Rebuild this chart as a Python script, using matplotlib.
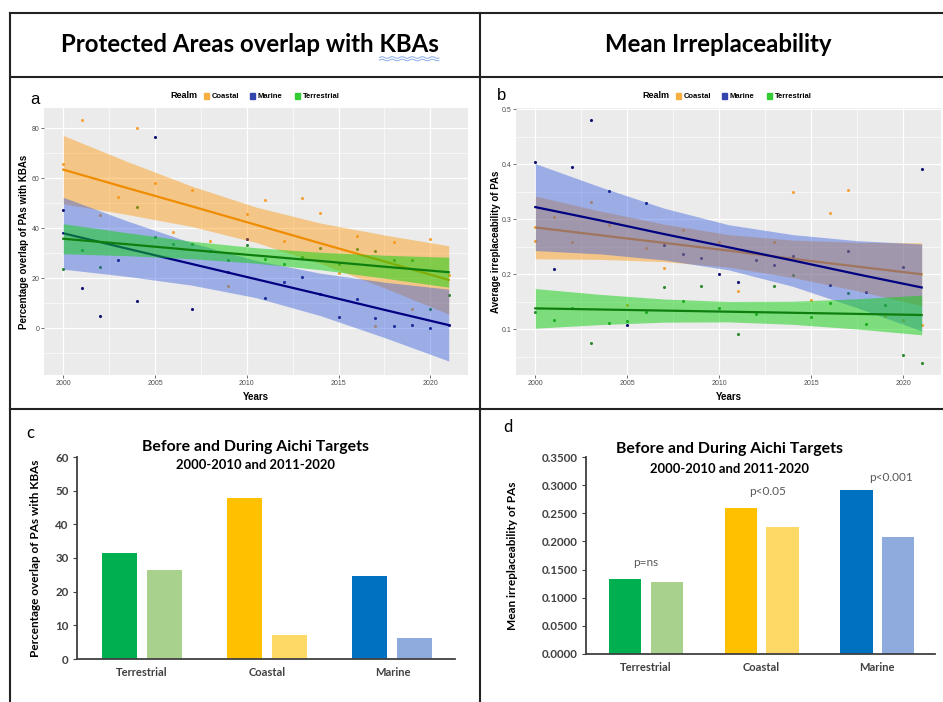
import numpy as np
import matplotlib.pyplot as plt
from matplotlib.lines import Line2D
from matplotlib.patches import Rectangle

W, H = 943, 702
nan = np.nan

years = np.arange(2000, 2022)
realms = ["Coastal", "Marine", "Terrestrial"]

# panel a - percentage overlap of PAs with KBAs (yearly points per realm)
a_coastal = [65.6, 83.2, 45.2, 52.5, 80.0, 58.0, 38.5, 55.2, 34.8, 16.8, 45.6,
             51.2, 34.8, 52.1, 46.1, 21.9, 36.8, 0.8, 34.5, 7.6, 35.9, 21.2]
a_marine = [47.2, 16.0, 4.8, 27.2, 10.8, 76.4, nan, 7.6, nan, 22.4, 35.6,
            12.1, 18.5, 20.4, 13.5, 4.3, 11.5, 3.9, 0.9, 1.2, 0.1, 1.2]
a_terrestrial = [23.6, 31.2, 24.4, nan, 48.5, 36.5, 33.6, 33.6, 31.0, 27.2, 33.2,
                 27.6, 25.5, 28.4, 32.1, 25.5, 31.5, 30.8, 27.2, 27.2, 7.6, 13.2]

# panel b - average irreplaceability of PAs
b_coastal = [0.261, 0.304, 0.259, 0.332, 0.290, 0.144, 0.247, 0.211, 0.281, nan, 0.259,
             0.170, nan, 0.259, 0.349, 0.153, 0.312, 0.353, nan, 0.125, 0.117, 0.108]
b_marine = [0.404, 0.210, 0.394, 0.481, 0.352, 0.108, 0.329, 0.253, 0.236, 0.230, 0.200,
            0.186, 0.225, 0.217, 0.233, nan, 0.181, 0.242, 0.168, nan, 0.214, 0.392]
b_terrestrial = [0.132, 0.116, 0.138, 0.075, 0.111, 0.115, 0.131, 0.176, 0.152, 0.178, 0.139,
                 0.092, 0.127, 0.178, 0.198, 0.123, 0.147, 0.166, 0.109, 0.144, 0.053, 0.039]

# linear smooths (fit and 95% band)
fit_years = [2000, 2003.5, 2007, 2010.5, 2014, 2017.5, 2021]

a_fit = {"Coastal": [63.5, 56.1, 48.8, 41.4, 34.0, 26.7, 19.3],
         "Marine": [38.0, 31.8, 25.7, 19.6, 13.5, 7.3, 1.2],
         "Terrestrial": [35.8, 33.6, 31.3, 29.1, 26.9, 24.6, 22.4]}
a_lo = {"Coastal": [49.8, 45.5, 40.7, 34.3, 25.9, 16.1, 5.6],
        "Marine": [23.6, 20.7, 17.2, 12.2, 5.0, -3.8, -13.2],
        "Terrestrial": [29.8, 29.0, 27.8, 26.0, 23.4, 20.0, 16.4]}
a_hi = {"Coastal": [77.2, 66.7, 56.9, 48.5, 42.1, 37.3, 33.0],
        "Marine": [52.4, 42.9, 34.2, 27.1, 22.0, 18.4, 15.6],
        "Terrestrial": [41.8, 38.2, 34.8, 32.2, 30.4, 29.2, 28.4]}

b_fit = {"Coastal": [0.285, 0.271, 0.257, 0.243, 0.228, 0.214, 0.200],
         "Marine": [0.322, 0.298, 0.273, 0.249, 0.225, 0.200, 0.176],
         "Terrestrial": [0.138, 0.136, 0.134, 0.132, 0.130, 0.128, 0.126]}
b_lo = {"Coastal": [0.228, 0.227, 0.223, 0.213, 0.194, 0.170, 0.143],
        "Marine": [0.243, 0.237, 0.226, 0.208, 0.178, 0.139, 0.097],
        "Terrestrial": [0.102, 0.1085, 0.113, 0.1135, 0.109, 0.1005, 0.090]}
b_hi = {"Coastal": [0.342, 0.315, 0.291, 0.272, 0.262, 0.258, 0.257],
        "Marine": [0.401, 0.359, 0.320, 0.290, 0.272, 0.261, 0.255],
        "Terrestrial": [0.174, 0.1635, 0.155, 0.1505, 0.151, 0.1555, 0.162]}

# panels c and d - before (2000-2010) and during (2011-2020) Aichi targets
bar_categories = ["Terrestrial", "Coastal", "Marine"]
c_before = [31.5, 47.7, 24.7]
c_during = [26.5, 7.2, 6.3]
d_before = [0.1330, 0.2600, 0.2910]
d_during = [0.1280, 0.2250, 0.2075]
d_pvalues = ["p=ns", "p<0.05", "p<0.001"]
d_pvalue_y = [0.163, 0.288, 0.313]

point_colors = {"Coastal": "#F2A43A", "Marine": "#101070", "Terrestrial": "#2E8A2E"}
band_colors = {"Coastal": "#FF9300", "Marine": "#2F58DE", "Terrestrial": "#10D010"}
band_alpha = {"Coastal": 0.42, "Marine": 0.42, "Terrestrial": 0.5}
line_colors = {"Coastal": "#F08C00", "Marine": "#000080", "Terrestrial": "#0E7F0E"}
key_colors = {"Coastal": "#F5B041", "Marine": "#3445B0", "Terrestrial": "#33CC33"}
dark_colors = ["#00B050", "#FFC000", "#0070C0"]
light_colors = ["#A9D18E", "#FFD966", "#8FAADC"]

GG_FONT = "Liberation Sans"
XL_FONT = "Lato"


def px_rect(left, top, right, bottom):
    return [left / W, 1 - bottom / H, (right - left) / W, (bottom - top) / H]


def fxy(x, y):
    return x / W, 1 - y / H


def gg_panel(ax, points, fit, lo, hi, ylim, yticks, ylabel, ylabel_x):
    ax.set_facecolor("#EBEBEB")
    for s in ax.spines.values():
        s.set_visible(False)
    ax.set_xlim(1998.95, 2022.05)
    ax.set_ylim(*ylim)
    ax.set_xticks([2000, 2005, 2010, 2015, 2020])
    ax.set_xticks([2002.5, 2007.5, 2012.5, 2017.5], minor=True)
    ax.set_yticks(yticks)
    step = yticks[1] - yticks[0]
    ax.set_yticks(np.arange(yticks[0] - step / 2, ylim[1], step), minor=True)
    ax.grid(which="major", color="white", linewidth=0.9)
    ax.grid(which="minor", color="white", linewidth=0.45)
    ax.set_axisbelow(True)
    ax.tick_params(which="major", length=2, width=0.5, color="#333333",
                   labelsize=5, labelcolor="#4D4D4D", pad=1.5)
    ax.tick_params(which="minor", length=0)
    for lab in ax.get_xticklabels() + ax.get_yticklabels():
        lab.set_fontfamily(GG_FONT)

    for realm in realms:
        ax.scatter(years, points[realm], s=5, color=point_colors[realm],
                   linewidths=0, zorder=2)
    for realm in realms:
        ax.fill_between(fit_years, lo[realm], hi[realm], color=band_colors[realm],
                        alpha=band_alpha[realm], linewidth=0, zorder=3)
        ax.plot(fit_years, fit[realm], color=line_colors[realm], linewidth=1.6,
                zorder=3)

    ax.set_xlabel("Years", fontsize=7, fontweight="bold", family=GG_FONT)
    ax.xaxis.set_label_coords(0.5, -0.065)
    ax.set_ylabel(ylabel, fontsize=7, fontweight="bold", family=GG_FONT)
    ax.yaxis.set_label_coords(ylabel_x, 0.5)


def gg_legend(fig, x0, y0):
    fig.text(*fxy(x0, y0), "Realm", fontsize=6.5, fontweight="bold",
             family=GG_FONT, va="center", ha="left")
    offsets = [(34, 42), (80, 88), (125, 133)]
    for realm, (kx, tx) in zip(realms, offsets):
        fx, fy = fxy(x0 + kx, y0 + 3)
        fig.patches.append(Rectangle((fx, fy), 5 / W, 6 / H, transform=fig.transFigure,
                                     color=key_colors[realm], figure=fig))
        fig.text(*fxy(x0 + tx, y0), realm, fontsize=5.5, fontweight="bold",
                 family=GG_FONT, va="center", ha="left")


def bar_panel(ax, before, during, ylim, yticks, fmt, ylabel, ylabel_x):
    x = np.arange(len(bar_categories))
    width, offset = 0.28, 0.18
    ax.bar(x - offset, before, width, color=dark_colors)
    ax.bar(x + offset, during, width, color=light_colors)
    ax.set_xlim(-0.52, 2.5)
    ax.set_ylim(*ylim)
    ax.set_yticks(yticks)
    ax.set_yticklabels([fmt.format(v) for v in yticks])
    ax.set_xticks(x)
    ax.set_xticklabels(bar_categories)
    for s in ["top", "right"]:
        ax.spines[s].set_visible(False)
    for s in ["left", "bottom"]:
        ax.spines[s].set_color("#404040")
        ax.spines[s].set_linewidth(1.3)
    ax.tick_params(axis="y", length=3, width=0.8, color="#404040", pad=3)
    ax.tick_params(axis="x", length=0, pad=6)
    for lab in ax.get_xticklabels() + ax.get_yticklabels():
        lab.set_fontfamily(XL_FONT)
        lab.set_fontweight("bold")
        lab.set_color("#404040")
    for lab in ax.get_yticklabels():
        lab.set_fontsize(8.3)
    for lab in ax.get_xticklabels():
        lab.set_fontsize(8)
    ax.set_ylabel(ylabel, fontsize=8.5, fontweight="bold", family=XL_FONT)
    ax.yaxis.set_label_coords(ylabel_x, 0.5)


fig = plt.figure(figsize=(W / 100, H / 100), dpi=100)

# table frame
frame = [((10, 13), (943, 13)), ((10, 77), (943, 77)), ((10, 409), (943, 409)),
         ((10, 13), (10, 702)), ((480, 13), (480, 702))]
for (x1, y1), (x2, y2) in frame:
    p1, p2 = fxy(x1, y1), fxy(x2, y2)
    fig.add_artist(Line2D([p1[0], p2[0]], [p1[1], p2[1]], color="#222222",
                          linewidth=1.5, transform=fig.transFigure))

header_props = dict(fontsize=17.3, fontweight="bold", family=XL_FONT)
head_left = fig.text(*fxy(250, 44), "Protected Areas overlap with KBAs",
                     ha="center", va="center", **header_props)
fig.text(*fxy(718, 44), "Mean Irreplaceability", ha="center", va="center",
         **header_props)

# spell-check squiggle under "KBAs"
renderer = fig.canvas.get_renderer()
bb = head_left.get_window_extent(renderer)
probe = fig.text(0, 0, "KBAs", **header_props)
kba_w = probe.get_window_extent(renderer).width
probe.remove()
wx = np.linspace(bb.x1 - kba_w, bb.x1, 60)
for dy in (2, 4.5):
    wy = bb.y0 - dy + 0.8 * np.sin((wx - wx[0]) / 1.6)
    fig.add_artist(Line2D(wx / W, wy / H, color="#8AAEE6", linewidth=0.7,
                          transform=fig.transFigure))

# panel a
ax_a = fig.add_axes(px_rect(44, 108, 468, 375))
gg_panel(ax_a, {"Coastal": a_coastal, "Marine": a_marine, "Terrestrial": a_terrestrial},
         a_fit, a_lo, a_hi, (-18.8, 88.2), [0, 20, 40, 60, 80],
         "Percentage overlap of PAs with KBAs", -0.035)
gg_legend(fig, 170, 96)
fig.text(*fxy(35, 100), "a", fontsize=12, family=GG_FONT, ha="center", va="center")

# panel b
ax_b = fig.add_axes(px_rect(516, 108, 941, 375))
gg_panel(ax_b, {"Coastal": b_coastal, "Marine": b_marine, "Terrestrial": b_terrestrial},
         b_fit, b_lo, b_hi, (0.017, 0.502), [0.1, 0.2, 0.3, 0.4, 0.5],
         "Average irreplaceability of PAs", -0.036)
gg_legend(fig, 642, 96)
fig.text(*fxy(502, 95), "b", fontsize=12, family=GG_FONT, ha="center", va="center")

# panel c
ax_c = fig.add_axes(px_rect(77, 457, 455, 659))
bar_panel(ax_c, c_before, c_during, (0, 60), list(range(0, 61, 10)), "{:.0f}",
          "Percentage overlap of PAs with KBAs", -0.095)
fig.text(*fxy(255, 447), "Before and During Aichi Targets", fontsize=11.4,
         fontweight="bold", family=XL_FONT, ha="center", va="center")
fig.text(*fxy(255, 465), "2000-2010 and 2011-2020", fontsize=9.4,
         fontweight="bold", family=XL_FONT, ha="center", va="center")
fig.text(*fxy(30, 433), "c", fontsize=12, family=XL_FONT, ha="center", va="center")

# panel d
ax_d = fig.add_axes(px_rect(586, 457, 935, 654))
bar_panel(ax_d, d_before, d_during, (0, 0.35), list(np.arange(0, 0.351, 0.05)), "{:.4f}",
          "Mean irreplaceability of PAs", -0.195)
for i, (label, y) in enumerate(zip(d_pvalues, d_pvalue_y)):
    ax_d.text(i + [0, 0.05, 0.12][i], y, label, fontsize=8.5, color="#595959",
              family=XL_FONT, ha="center", va="center")
fig.text(*fxy(730, 449), "Before and During Aichi Targets", fontsize=11.4,
         fontweight="bold", family=XL_FONT, ha="center", va="center")
fig.text(*fxy(730, 469), "2000-2010 and 2011-2020", fontsize=9.4,
         fontweight="bold", family=XL_FONT, ha="center", va="center")
fig.text(*fxy(508, 427), "d", fontsize=12, family=XL_FONT, ha="center", va="center")

fig.savefig("out.png", dpi=100, facecolor="white")
